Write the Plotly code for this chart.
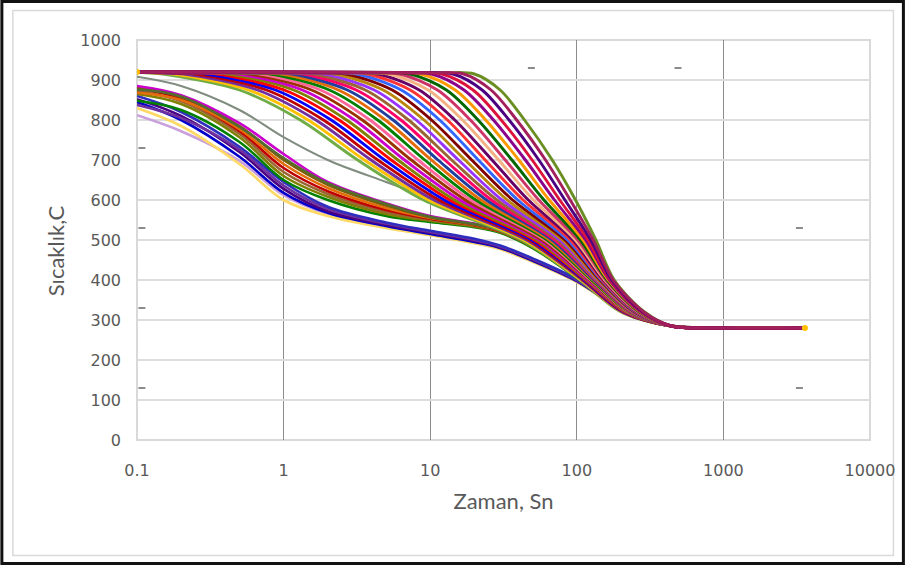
import plotly.graph_objects as go

# ---------------- data ----------------
# Upper family (starts at 920 C): time (s) at which each curve crosses the given level
A_START_T = 0.1
A_START_V = 920
A_LEVELS = [918, 915, 875, 800, 700, 600, 500, 400, 320]
T918 = [0.115, 0.125, 0.135, 0.146, 0.173, 0.205, 0.243, 0.288, 0.340, 0.403,
        0.477, 0.565, 0.671, 0.794, 0.935, 1.11, 1.31, 1.55, 1.84, 2.18,
        2.58, 3.05, 3.61, 4.28, 5.06, 6.00, 7.06, 8.41, 9.94, 11.8]
T915 = [0.150, 0.178, 0.210, 0.249, 0.294, 0.349, 0.413, 0.489, 0.578, 0.685,
        0.811, 0.960, 1.14, 1.35, 1.59, 1.88, 2.23, 2.64, 3.13, 3.70,
        4.38, 5.19, 6.14, 7.27, 8.60, 10.2, 12.0, 14.3, 16.9, 20.0]
T875 = [0.500, 0.576, 0.663, 0.764, 0.880, 1.01, 1.17, 1.34, 1.55, 1.78,
        2.05, 2.36, 2.72, 3.13, 3.61, 4.15, 4.78, 5.51, 6.34, 7.30,
        8.41, 9.69, 11.2, 12.9, 14.8, 17.0, 19.6, 22.6, 26.0, 30.0]
T800 = [1.30, 1.47, 1.66, 1.87, 2.11, 2.39, 2.69, 3.04, 3.44, 3.88,
        4.38, 4.94, 5.58, 6.30, 7.11, 8.03, 9.07, 10.2, 11.6, 13.1,
        14.7, 16.6, 18.8, 21.2, 23.9, 27.0, 30.5, 34.5, 38.9, 44.0]
T700 = [3.20, 3.56, 3.95, 4.39, 4.88, 5.42, 6.02, 6.69, 7.43, 8.26,
        9.18, 10.2, 11.3, 12.6, 14.0, 15.6, 17.3, 19.2, 21.3, 23.7,
        26.4, 29.3, 32.5, 36.1, 40.2, 44.6, 49.6, 55.1, 61.2, 68.0]
T600 = [9.0, 9.77, 10.6, 11.5, 12.5, 13.6, 14.7, 16.0, 17.4, 18.9,
        20.5, 22.2, 24.2, 26.2, 28.5, 30.9, 33.6, 36.5, 39.6, 43.0,
        46.7, 50.7, 55.0, 59.7, 64.9, 70.5, 76.5, 83.0, 90.2, 98.0]
T500 = [42.0, 43.7, 45.5, 47.3, 49.3, 51.3, 53.4, 55.6, 57.9, 60.3,
        62.8, 65.3, 68.0, 70.8, 73.8, 76.7, 79.8, 83.2, 86.5, 90.2,
        93.9, 97.7, 101.6, 105.9, 110.2, 114.8, 119.4, 124.5, 129.4, 135.0]
T400 = [105, 107, 109, 111, 113, 115, 117, 119, 122, 124,
        126, 129, 131, 134, 136, 139, 141, 144, 147, 149,
        152, 155, 158, 161, 164, 167, 170, 173, 177, 180]
T320 = [200, 203, 205, 208, 210, 213, 216, 219, 221, 224,
        227, 230, 233, 236, 239, 242, 245, 248, 252, 255,
        258, 262, 265, 268, 272, 275, 279, 282, 286, 290]
TAIL_T = [440, 1000, 3600]
TAIL_V = [285, 280, 280]

# Lower family (starts 810-885 C): temperatures at fixed times
C_T = [0.1, 0.2, 0.5, 1, 2, 5, 10, 20, 30, 50, 100, 200, 300, 500, 1000, 3600]
C01 = [812, 772, 698, 612, 565, 532, 513, 493, 478, 446, 396, 326, 298, 282, 280, 280]
C02 = [830, 785, 690, 600, 560, 530, 512, 492, 477, 445, 395, 325, 297, 282, 280, 280]
C03 = [845, 800, 708, 618, 568, 535, 515, 495, 480, 448, 397, 326, 298, 282, 280, 280]
C04 = [852, 810, 720, 628, 572, 538, 518, 498, 482, 450, 399, 327, 298, 282, 280, 280]
C05 = [838, 805, 726, 636, 578, 541, 520, 500, 484, 452, 400, 327, 298, 282, 280, 280]
C06 = [860, 820, 733, 645, 583, 544, 523, 503, 486, 454, 402, 328, 299, 283, 280, 280]
C07 = [848, 825, 745, 650, 600, 560, 545, 532, 518, 480, 405, 328, 299, 283, 280, 280]
C08 = [865, 840, 757, 660, 608, 565, 548, 534, 520, 482, 406, 329, 299, 283, 280, 280]
C09 = [872, 847, 765, 670, 615, 570, 551, 536, 521, 484, 407, 329, 299, 283, 280, 280]
C10 = [878, 853, 772, 680, 622, 575, 553, 537, 522, 485, 408, 330, 299, 283, 280, 280]
C11 = [868, 850, 777, 690, 630, 580, 555, 538, 523, 486, 409, 330, 300, 283, 280, 280]
C12 = [882, 858, 785, 700, 638, 586, 557, 539, 524, 488, 410, 331, 300, 283, 280, 280]
C13 = [885, 862, 792, 715, 645, 592, 560, 541, 525, 490, 412, 332, 300, 283, 280, 280]
C14 = [876, 859, 783, 705, 642, 590, 558, 540, 524, 489, 411, 331, 300, 283, 280, 280]

# Single grey curve
B_T = [0.1, 0.2, 0.5, 1, 2, 5, 10, 20, 50, 100, 200, 440, 1000, 3600]
B_V = [908, 885, 825, 757, 700, 645, 605, 565, 495, 408, 325, 285, 280, 280]

# Small stray marks seen in the chart
MARK_X = [0.108, 0.108, 0.108, 0.108, 49, 490, 3300, 3300]
MARK_Y = [730, 530, 330, 130, 930, 930, 530, 130]

X_TICKS = [0.1, 1, 10, 100, 1000, 10000]
X_TICK_TEXT = ["0.1", "1", "10", "100", "1000", "10000"]
Y_TITLE = 'Sıcaklık,C'
X_TITLE = 'Zaman, Sn'

# ---------------- styles ----------------
A_COLORS = ['#70AD47', '#FFC000', '#7030A0', '#C00000', '#0000FF', '#FF0000', '#808000',
            '#CC00CC', '#993300', '#FF6699', '#008000', '#E46C0A', '#1F3F9F', '#FF0066',
            '#996633', '#9933FF', '#B8860B', '#800000', '#3366FF', '#FF3333', '#660066',
            '#F4B183', '#CC3366', '#006600', '#FF9900', '#8B008B', '#DC143C', '#4B0082',
            '#A31F5C', '#6B8E23']
C_COLORS = ['#C9A0DC', '#FFD966', '#0000CC', '#4B0082', '#7030A0', '#2F2FBF', '#008000',
            '#808000', '#996633', '#C00000', '#E46C0A', '#7F6000', '#CC00CC', '#556B2F']

fig = go.Figure()

c_rows = [C01, C02, C03, C04, C05, C06, C07, C08, C09, C10, C11, C12, C13, C14]
for vals, col in zip(c_rows, C_COLORS):
    fig.add_trace(go.Scatter(x=C_T, y=vals, mode='lines',
                             line=dict(color=col, width=2.6, shape='spline', smoothing=1.0),
                             hoverinfo='skip'))

fig.add_trace(go.Scatter(x=B_T, y=B_V, mode='lines',
                         line=dict(color='#7F8C7F', width=2, shape='spline', smoothing=1.0),
                         hoverinfo='skip'))

order = [29] + list(range(29))
for k in order:
    xs = [A_START_T, T918[k], T915[k], T875[k], T800[k], T700[k], T600[k], T500[k],
          T400[k], T320[k]] + TAIL_T
    ys = [A_START_V] + A_LEVELS + TAIL_V
    fig.add_trace(go.Scatter(x=xs, y=ys, mode='lines',
                             line=dict(color=A_COLORS[k], width=2.9, shape='spline', smoothing=0.9),
                             hoverinfo='skip'))

# yellow end points of one series (first and last sample)
fig.add_trace(go.Scatter(x=[A_START_T, TAIL_T[-1]], y=[A_START_V, TAIL_V[-1]], mode='markers',
                         marker=dict(color='#FFC000', size=6), hoverinfo='skip'))

fig.add_trace(go.Scatter(x=MARK_X, y=MARK_Y, mode='markers',
                         marker=dict(symbol='line-ew', size=5, line=dict(color='#666666', width=1.5)),
                         hoverinfo='skip'))

W, H = 907, 565
L, R, T, B = 137, 35, 40, 125
pw, ph = W - L - R, H - T - B


def px_to_paper_x(p):
    return (p - L) / pw


def px_to_paper_y(p):
    return (H - B - p) / ph


fig.update_layout(
    width=W, height=H,
    margin=dict(l=L, r=R, t=T, b=B),
    paper_bgcolor='white', plot_bgcolor='white',
    showlegend=False,
    xaxis=dict(type='log', range=[-1, 4], tickvals=X_TICKS, ticktext=X_TICK_TEXT,
               showgrid=True, gridcolor='#8C8C8C', gridwidth=1.3, zeroline=False,
               showline=False, ticks='', ticklabelstandoff=19,
               tickfont=dict(family='DejaVu Sans', size=16, color='#595959'),
               title=dict(text=X_TITLE, standoff=14,
                          font=dict(family='Lato', size=22, color='#595959'))),
    yaxis=dict(range=[0, 1000], dtick=100, showgrid=True, gridcolor='#DDDDDD', gridwidth=1.5,
               zeroline=False, showline=False, ticks='', ticklabelstandoff=15,
               tickfont=dict(family='DejaVu Sans', size=16, color='#595959')),
    annotations=[
        dict(text=Y_TITLE, textangle=-90, showarrow=False,
             xref='paper', yref='paper', x=px_to_paper_x(55), y=px_to_paper_y(251),
             xanchor='center', yanchor='middle',
             font=dict(family='Lato', size=22, color='#595959')),
    ],
    shapes=[
        dict(type='rect', xref='paper', yref='paper', x0=0, x1=1, y0=0, y1=1,
             line=dict(color='#D9D9D9', width=2), layer='below'),
        dict(type='rect', xref='paper', yref='paper',
             x0=px_to_paper_x(12.5), x1=px_to_paper_x(895.5),
             y0=px_to_paper_y(555.5), y1=px_to_paper_y(10.5),
             line=dict(color='#D9D9D9', width=1.5), layer='below'),
        dict(type='rect', xref='paper', yref='paper',
             x0=px_to_paper_x(1.5), x1=px_to_paper_x(905.5),
             y0=px_to_paper_y(563.5), y1=px_to_paper_y(1.5),
             line=dict(color='#111111', width=3), layer='above'),
    ],
)

fig.write_html("out.html")
